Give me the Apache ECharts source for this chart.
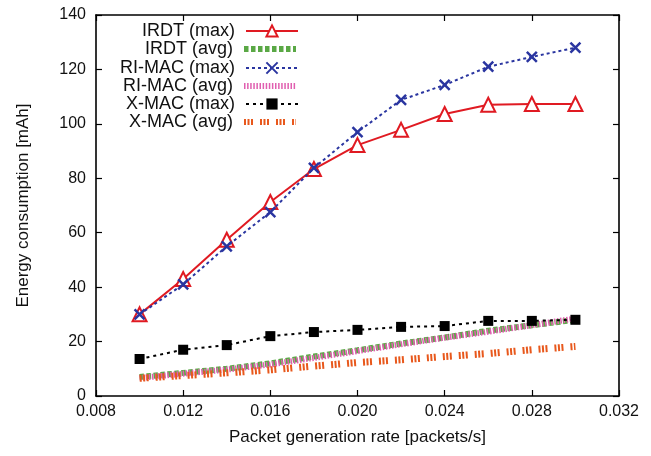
<!DOCTYPE html>
<html>
<head>
<meta charset="utf-8">
<script src="https://cdn.jsdelivr.net/npm/echarts@6/dist/echarts.min.js"></script>
<style>html,body{margin:0;padding:0;background:#fff;}#c{width:651px;height:456px;}</style>
</head>
<body>
<div id="c"></div>
<script>
const rates = [0.010, 0.012, 0.014, 0.016, 0.018, 0.020, 0.022, 0.024, 0.026, 0.028, 0.030];
const irdtMax = [30, 43, 57.4, 71.3, 83.4, 92.2, 97.8, 103.6, 107, 107.3, 107.3];
const irdtAvg = [7, 8.5, 10, 12, 14.5, 16.8, 19.3, 21.5, 24, 26, 28];
const rimacMax = [30, 41, 55, 67.6, 83.8, 97, 108.8, 114.3, 121, 124.6, 128];
const rimacAvg = [6.6, 8.2, 9.7, 11.6, 14, 16.5, 19, 21.4, 23.6, 26, 28.5];
const xmacMax = [13.6, 17, 18.7, 22, 23.5, 24.3, 25.4, 25.7, 27.6, 27.6, 28];
const xmacAvg = [6.5, 7.5, 8.5, 9.6, 11, 12.3, 13.3, 14.5, 15.6, 17, 18.2];
const seriesNames = ['IRDT (max)', 'IRDT (avg)', 'RI-MAC (max)', 'RI-MAC (avg)', 'X-MAC (max)', 'X-MAC (avg)'];
const xTicks = {min: 0.008, max: 0.032, interval: 0.004};
const yTicks = {min: 0, max: 140, interval: 20};

const pts = arr => rates.map((r, i) => [r, arr[i]]);
const FONT = 'Liberation Sans, Arial, sans-serif';
const RED = '#e01a22', BLUE = '#2a35a0', GREEN = '#5aa845', PINK = '#e05fb0', ORANGE = '#e8581c';

const legendTops = [31, 49, 68, 86, 104, 122];
const legendLineWidths = [2, 6, 2, 6, 2, 6];
const legendHasSymbol = [true, false, true, false, true, false];
const legends = seriesNames.map((n, i) => {
  const lg = {
    data: [n], right: 352, top: legendTops[i] - 9, padding: 0,
    align: 'right', itemWidth: 52, itemHeight: 14, itemGap: 0,
    textStyle: {fontFamily: FONT, fontSize: 18, color: '#111', padding: [0, 6, 0, 0]},
    lineStyle: {width: legendLineWidths[i]},
    selectedMode: false
  };
  if (!legendHasSymbol[i]) lg.itemStyle = {color: 'transparent', borderColor: 'transparent', borderWidth: 0};
  return lg;
});

const axisBase = {
  type: 'value', gridIndex: 0,
  axisLine: {show: true, onZero: false, lineStyle: {color: '#000', width: 1.6}},
  axisTick: {show: true, inside: true, length: 6, lineStyle: {color: '#000', width: 1.2}},
  splitLine: {show: false}
};

const option = {
  animation: false,
  backgroundColor: '#fff',
  grid: {left: 96, right: 32, top: 15, bottom: 60, containLabel: false},
  legend: legends,
  xAxis: [
    Object.assign({}, axisBase, xTicks, {
      position: 'bottom',
      name: 'Packet generation rate [packets/s]', nameLocation: 'middle', nameGap: 33,
      nameTextStyle: {fontFamily: FONT, fontSize: 17, color: '#111'},
      axisLabel: {fontFamily: FONT, fontSize: 16, color: '#111', margin: 8, formatter: v => v.toFixed(3)}
    }),
    Object.assign({}, axisBase, xTicks, {position: 'top', axisLabel: {show: false}})
  ],
  yAxis: [
    Object.assign({}, axisBase, yTicks, {
      position: 'left',
      name: 'Energy consumption [mAh]', nameLocation: 'middle', nameGap: 64,
      nameTextStyle: {fontFamily: FONT, fontSize: 17, color: '#111'},
      axisLabel: {fontFamily: FONT, fontSize: 16, color: '#111', margin: 10}
    }),
    Object.assign({}, axisBase, yTicks, {position: 'right', axisLabel: {show: false}})
  ],
  series: [
    {name: seriesNames[0], type: 'line', data: pts(irdtMax), symbol: 'triangle', symbolSize: 14,
     lineStyle: {color: RED, width: 2}, itemStyle: {color: '#fff', borderColor: RED, borderWidth: 2}, z: 2},
    {name: seriesNames[1], type: 'line', data: pts(irdtAvg), symbol: 'none',
     lineStyle: {color: GREEN, width: 6, type: [4.5, 2.5]}, itemStyle: {color: GREEN}, z: 3},
    {name: seriesNames[2], type: 'line', data: pts(rimacMax), symbol: 'path://M0,0L10,10M10,0L0,10', symbolSize: 10,
     lineStyle: {color: BLUE, width: 2, type: [3, 3]}, itemStyle: {color: 'none', borderColor: BLUE, borderWidth: 2.5}, z: 4},
    {name: seriesNames[3], type: 'line', data: pts(rimacAvg), symbol: 'none',
     lineStyle: {color: PINK, width: 6, type: [1.5, 1.6]}, itemStyle: {color: PINK}, z: 5},
    {name: seriesNames[4], type: 'line', data: pts(xmacMax), symbol: 'rect', symbolSize: 10,
     lineStyle: {color: '#000', width: 2, type: [3, 4]}, itemStyle: {color: '#000'}, z: 6},
    {name: seriesNames[5], type: 'line', data: pts(xmacAvg), symbol: 'none',
     lineStyle: {color: ORANGE, width: 7, type: [2, 1.5, 2, 1.5, 2, 7]}, itemStyle: {color: ORANGE}, z: 7}
  ]
};
const chart = echarts.init(document.getElementById('c'), null, {renderer: 'canvas'});
chart.setOption(option);
</script>
</body>
</html>
